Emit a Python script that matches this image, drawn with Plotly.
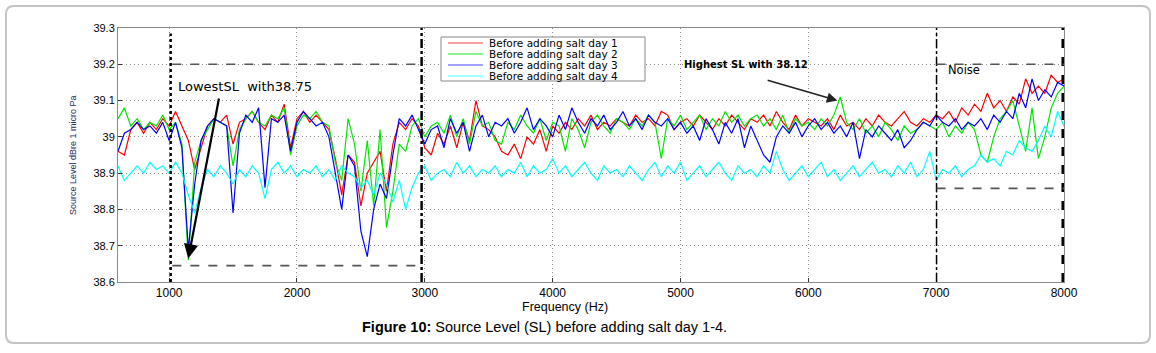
import plotly.graph_objects as go

# ---------------- data ----------------
freq = list(range(600, 8001, 50))

day1 = [
    38.96, 38.95, 39.02, 39.04, 39.01, 39.04, 39.02, 39.05, 39.03, 39.07,
    39.03, 38.99, 38.91, 38.97, 39.03, 39.05, 39.04, 39.06, 38.98, 39.04,
    39.05, 39.07, 39.04, 39.02, 39.06, 39.04, 39.09, 38.97, 39.05, 39.07,
    39.04, 39.06, 39.04, 39.02, 38.94, 38.84, 38.95, 38.93, 38.81, 38.90,
    38.93, 38.96, 38.85, 38.98, 39.04, 39.02, 39.05, 39.03, 38.97, 38.95,
    39.01, 38.98, 39.03, 38.97, 39.04, 38.99, 39.10, 39.03, 39.02, 39.00,
    38.96, 38.95, 38.98, 38.94, 39.00, 38.98, 39.02, 38.96, 39.03, 39.01,
    39.04, 39.02, 39.05, 39.03, 39.06, 39.02, 39.04, 39.03, 39.05, 39.04,
    39.03, 39.06, 39.04, 39.05, 39.03, 39.07, 39.06, 39.02, 39.04, 39.05,
    39.03, 39.06, 39.04, 39.02, 39.05, 39.03, 39.06, 39.04, 39.02, 39.05,
    39.04, 39.06, 39.03, 39.07, 39.04, 39.02, 39.06, 39.03, 39.05, 39.04,
    39.03, 39.05, 39.02, 39.06, 39.03, 39.04, 39.02, 39.05, 39.03, 39.06,
    39.04, 39.03, 39.05, 39.07, 39.04, 39.03, 39.05, 39.04, 39.06, 39.05,
    39.07, 39.04, 39.08, 39.06, 39.09, 39.07, 39.12, 39.08, 39.10, 39.07,
    39.11, 39.09, 39.16, 39.12, 39.14, 39.12, 39.17, 39.15, 39.16,
]

day2 = [
    39.05, 39.08, 39.03, 39.05, 39.02, 39.04, 39.03, 39.06, 39.02, 39.04,
    38.98, 38.66, 38.93, 38.99, 39.02, 39.05, 39.04, 39.03, 38.92, 39.02,
    39.05, 39.07, 39.04, 39.03, 39.06, 39.05, 39.08, 38.95, 39.03, 39.06,
    39.05, 39.07, 39.04, 39.03, 38.93, 38.88, 39.05, 38.98, 38.85, 38.99,
    38.81, 39.02, 38.75, 38.85, 38.98, 38.96, 39.03, 39.05, 39.00, 39.03,
    39.04, 39.01, 39.06, 39.00, 39.05, 38.98, 39.07, 39.03, 39.04, 38.99,
    38.98, 39.04, 39.02, 39.06, 39.03, 39.01, 39.05, 38.99, 39.04, 39.03,
    38.96, 39.05, 39.02, 38.97, 39.04, 39.06, 39.03, 39.01, 39.05, 39.04,
    39.02, 39.05, 39.03, 39.06, 39.04, 38.94, 39.05, 39.03, 39.06, 39.02,
    39.04, 39.06, 39.02, 39.05, 39.03, 39.07, 39.04, 39.06, 39.03, 39.05,
    39.06, 39.03, 39.05, 39.02, 39.06, 39.01, 39.05, 39.03, 39.04, 39.02,
    39.05, 39.03, 39.06, 39.11, 39.04, 39.02, 39.05, 39.01, 39.03, 39.00,
    39.04, 39.02, 38.99, 39.03, 39.01, 39.02, 39.04, 39.03, 39.02, 39.04,
    39.00, 39.03, 39.01, 39.04, 39.02, 38.95, 38.93, 39.00, 39.05, 39.07,
    39.10, 39.03, 38.96, 39.08, 38.94, 39.00, 39.08, 39.12, 39.14,
]

day3 = [
    38.96, 39.01, 39.02, 39.04, 39.02, 39.03, 39.01, 39.04, 38.99, 39.04,
    38.97, 38.69, 38.87, 38.99, 39.03, 39.05, 39.04, 39.03, 38.79, 39.01,
    39.06, 39.04, 39.08, 38.86, 39.05, 39.04, 39.06, 38.96, 39.04, 39.07,
    39.05, 39.03, 39.04, 39.00, 38.90, 38.80, 38.95, 38.92, 38.74, 38.67,
    38.80, 38.87, 38.83, 38.95, 39.05, 39.03, 39.06, 39.02, 38.98, 39.02,
    39.03, 38.97, 39.05, 39.01, 39.04, 38.96, 39.03, 39.06, 39.00, 39.04,
    39.03, 39.05, 39.01, 39.04, 39.08, 39.02, 39.05, 39.03, 39.00, 39.06,
    39.02, 39.08, 39.04, 39.01, 39.05, 39.03, 39.06, 39.02, 39.04, 39.07,
    39.03, 39.05, 39.02, 39.06, 39.04, 39.03, 39.05, 39.02, 39.04, 39.01,
    39.03, 38.99, 39.05, 39.02, 38.98, 39.04, 39.01, 39.05, 38.97, 39.03,
    38.99, 38.95, 38.93, 39.00, 39.03, 39.01, 39.04, 39.00, 39.03, 39.05,
    39.02, 39.04, 39.01, 39.03, 39.00, 39.04, 38.94, 39.02, 39.00, 39.03,
    39.01, 38.99, 39.02, 38.97, 38.99, 39.02, 39.04, 39.03, 39.06, 39.04,
    39.03, 39.05, 39.02, 39.04, 39.03, 39.05, 39.02, 39.06, 39.04, 39.07,
    39.05, 39.12, 39.08, 39.16, 39.10, 39.13, 39.11, 39.15, 39.14,
]

day4 = [
    38.92, 38.88, 38.90, 38.92, 38.90, 38.93, 38.91, 38.92, 38.90, 38.93,
    38.90, 38.84, 38.79, 38.86, 38.91, 38.89, 38.92, 38.90, 38.87, 38.91,
    38.89, 38.92, 38.90, 38.83, 38.91, 38.93, 38.90, 38.92, 38.89, 38.91,
    38.90, 38.92, 38.89, 38.91, 38.88, 38.92, 38.90, 38.89, 38.86, 38.88,
    38.84, 38.90, 38.87, 38.82, 38.88, 38.80, 38.86, 38.90, 38.92, 38.88,
    38.90, 38.91, 38.89, 38.93, 38.90, 38.92, 38.89, 38.91, 38.90, 38.92,
    38.89, 38.91, 38.90, 38.93, 38.89, 38.92, 38.90, 38.91, 38.94, 38.90,
    38.92, 38.89, 38.91, 38.93, 38.90, 38.88, 38.92, 38.90, 38.91, 38.89,
    38.92, 38.90, 38.88, 38.91, 38.93, 38.89, 38.92, 38.90, 38.93, 38.88,
    38.90, 38.92, 38.89, 38.91, 38.93, 38.90, 38.88, 38.92, 38.90, 38.91,
    38.89, 38.92, 38.90, 38.96, 38.91, 38.88, 38.90, 38.92, 38.89, 38.91,
    38.93, 38.89, 38.91, 38.88, 38.90, 38.92, 38.89, 38.91, 38.93, 38.90,
    38.91, 38.89, 38.92, 38.90, 38.93, 38.89, 38.91, 38.96, 38.88, 38.91,
    38.90, 38.92, 38.89, 38.91, 38.92, 38.95, 38.93, 38.94, 38.92, 38.96,
    38.95, 38.99, 38.97, 38.96, 38.99, 39.03, 39.00, 39.07, 39.03,
]

series_names = ["Before adding salt day 1", "Before adding salt day 2",
                "Before adding salt day 3", "Before adding salt day 4"]
series_values = [day1, day2, day3, day4]
series_colors = ["#ff0000", "#00e600", "#0000ff", "#00ffff"]
legend_colors = ["#ff8080", "#66ee66", "#8080ff", "#80ffff"]

x_ticks = [1000, 2000, 3000, 4000, 5000, 6000, 7000, 8000]
y_ticks = [38.6, 38.7, 38.8, 38.9, 39.0, 39.1, 39.2, 39.3]
y_tick_labels = ["38.6", "38.7", "38.8", "38.9", "39", "39.1", "39.2", "39.3"]

# ---------------- layout helpers ----------------
W, H = 1156, 353
L, R, T, B = 118, 1064, 28, 282


def px_x(p):
    return (p - L) / (R - L)


def px_y(p):
    return (B - p) / (B - T)


FONT = "Liberation Sans, Arial, sans-serif"

fig = go.Figure()
for name, vals, col in zip(series_names, series_values, series_colors):
    fig.add_trace(go.Scatter(x=freq, y=vals, mode="lines", name=name,
                             line=dict(color=col, width=1.2), showlegend=False))

shapes = []
# outer rounded frame
x0, x1 = px_x(6), px_x(1150)
y0, y1 = px_y(343), px_y(6)
rx, ry = 8 / (R - L), 8 / (B - T)
path = (f"M {x0+rx},{y1} L {x1-rx},{y1} Q {x1},{y1} {x1},{y1-ry} "
        f"L {x1},{y0+ry} Q {x1},{y0} {x1-rx},{y0} L {x0+rx},{y0} "
        f"Q {x0},{y0} {x0},{y0+ry} L {x0},{y1-ry} Q {x0},{y1} {x0+rx},{y1} Z")
shapes.append(dict(type="path", path=path, xref="paper", yref="paper",
                   line=dict(color="#c4c4c4", width=2), layer="below"))

# region markers (vertical)
shapes.append(dict(type="line", xref="x", yref="y", x0=1012, x1=1012, y0=38.6, y1=39.285,
                   line=dict(color="black", width=2.5, dash="dot")))
shapes.append(dict(type="line", xref="x", yref="y", x0=2975, x1=2975, y0=38.6, y1=39.3,
                   line=dict(color="black", width=2.5, dash="dashdot")))
shapes.append(dict(type="line", xref="x", yref="y", x0=7003, x1=7003, y0=38.6, y1=39.3,
                   line=dict(color="black", width=1.5, dash="dashdot")))
shapes.append(dict(type="line", xref="x", yref="y", x0=7990, x1=7990, y0=38.6, y1=39.3,
                   line=dict(color="black", width=2.5, dash="dash")))
# horizontal dashed bounds
for (a, b, yv) in [(1025, 2975, 39.2), (1025, 2975, 38.645),
                   (7003, 8000, 39.2), (7003, 8000, 38.858)]:
    shapes.append(dict(type="line", xref="x", yref="y", x0=a, x1=b, y0=yv, y1=yv,
                       line=dict(color="#555555", width=1.6, dash="dash")))

# custom legend box
shapes.append(dict(type="rect", xref="paper", yref="paper",
                   x0=px_x(441), x1=px_x(645), y0=px_y(81), y1=px_y(37),
                   line=dict(color="#888888", width=1), fillcolor="white"))
legend_rows = [43, 54, 65, 76]
annotations = []
for name, col, row in zip(series_names, legend_colors, legend_rows):
    shapes.append(dict(type="line", xref="paper", yref="paper",
                       x0=px_x(448), x1=px_x(483), y0=px_y(row), y1=px_y(row),
                       line=dict(color=col, width=1.5)))
    annotations.append(dict(xref="paper", yref="paper", x=px_x(487), y=px_y(row),
                            text=name, showarrow=False, xanchor="left", yanchor="middle",
                            font=dict(family="DejaVu Sans", size=10.5, color="black")))

# texts
annotations += [
    dict(xref="x", yref="y", x=1050, y=39.14, text="LowestSL  with38.75", showarrow=False,
         xanchor="left", yanchor="middle",
         font=dict(family="DejaVu Sans", size=13, color="black")),
    dict(xref="x", yref="y", x=5010, y=39.20, text="<b>Highest SL with 38.12</b>", showarrow=False,
         xanchor="left", yanchor="middle",
         font=dict(family="DejaVu Sans", size=10, color="black")),
    dict(xref="x", yref="y", x=7080, y=39.185, text="Noise", showarrow=False,
         xanchor="left", yanchor="middle",
         font=dict(family="DejaVu Sans", size=11.5, color="black")),
    # arrows
    dict(xref="x", yref="y", axref="x", ayref="y", x=1150, y=38.665, ax=1392, ay=39.11,
         text="", showarrow=True, arrowhead=2, arrowsize=1.3, arrowwidth=2.2,
         arrowcolor="black", standoff=0, startstandoff=0),
    dict(xref="x", yref="y", axref="x", ayref="y", x=6227, y=39.10, ax=5670, ay=39.157,
         text="", showarrow=True, arrowhead=2, arrowsize=1.3, arrowwidth=1.6,
         arrowcolor="#222222", standoff=0, startstandoff=0),
    # axis titles
    dict(xref="paper", yref="paper", x=px_x(565), y=px_y(307), text="Frequency (Hz)",
         showarrow=False, xanchor="center", yanchor="middle",
         font=dict(family=FONT, size=12.5, color="black")),
    dict(xref="paper", yref="paper", x=px_x(73), y=px_y(155), text="Source Level dBre 1 micro Pa",
         showarrow=False, xanchor="center", yanchor="middle", textangle=-90,
         font=dict(family=FONT, size=9, color="#1c2b5a")),
    # caption
    dict(xref="paper", yref="paper", x=px_x(544), y=px_y(327),
         text="<b>Figure 10:</b> Source Level (SL) before adding salt day 1-4.",
         showarrow=False, xanchor="center", yanchor="middle",
         font=dict(family=FONT, size=14.5, color="black")),
]

fig.update_layout(
    width=W, height=H,
    margin=dict(l=L, r=W - R, t=T, b=H - B, pad=0),
    paper_bgcolor="white", plot_bgcolor="white",
    shapes=shapes, annotations=annotations,
    showlegend=False,
    font=dict(family=FONT, color="black"),
)
fig.update_xaxes(range=[600, 8000], tickvals=x_ticks, ticks="inside", ticklen=4,
                 tickcolor="#333333", tickfont=dict(size=12, color="black", family=FONT),
                 showgrid=True, gridcolor="#8a8a8a", griddash="1px,3px", gridwidth=1,
                 showline=True, linecolor="#8a8a8a", linewidth=1, mirror=True,
                 zeroline=False)
fig.update_yaxes(range=[38.6, 39.3], tickvals=y_ticks, ticktext=y_tick_labels,
                 ticks="inside", ticklen=4, tickcolor="#333333",
                 tickfont=dict(size=11, color="black", family=FONT),
                 showgrid=True, gridcolor="#8a8a8a", griddash="1px,3px", gridwidth=1,
                 showline=True, linecolor="#8a8a8a", linewidth=1, mirror=True,
                 zeroline=False)

fig.write_html("out.html", config={"displayModeBar": False},
               post_script="document.body.style.margin='0';document.body.style.padding='0';")
